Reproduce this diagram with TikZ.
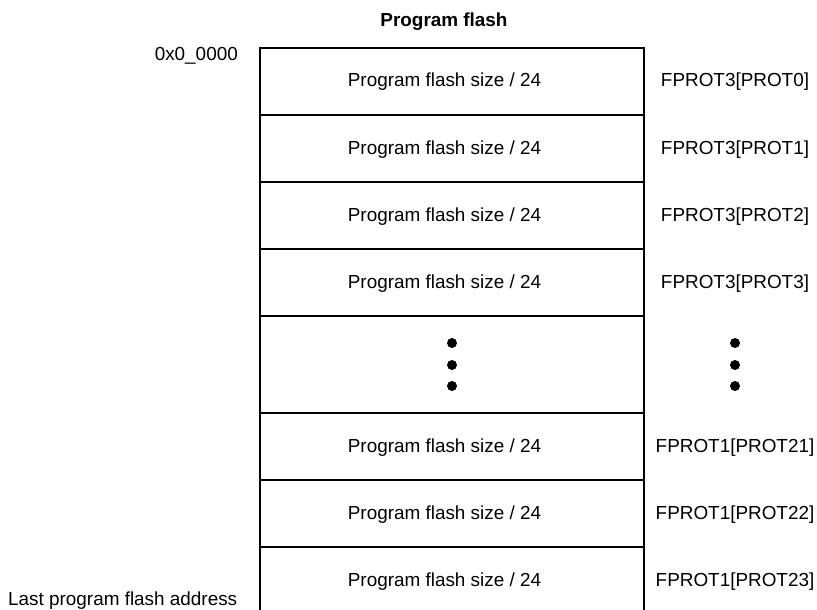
\documentclass[tikz,border=0pt]{standalone}
\usepackage{fontspec}
\setmainfont{Liberation Sans}
\begin{document}
\begin{tikzpicture}[x=1pt,y=-1pt,
  txt/.style={font=\fontsize{18.9}{20}\selectfont, inner sep=0pt},
  lbl/.style={txt, anchor=base},
  dot/.style={circle, fill=black, inner sep=0pt, minimum size=10pt},
  frame/.style={line width=1.6pt}]
\useasboundingbox (0,0) rectangle (817,610);
% outer frame
\draw[frame] (260,616) -- (260,48) -- (644,48) -- (644,616);
% dividers
\foreach \yy in {115,182,249,316,413,480,547}
  \draw[frame] (260,\yy) -- (644,\yy);
\node[txt, anchor=base, font=\fontsize{18.9}{20}\selectfont\bfseries] (title) at (444,27) {Program flash};
\node[txt, anchor=base east] (start) at (238,61) {0x0\_0000};
\node[txt, anchor=base west] (last) at (8,605) {Last program flash address};
% rows
\foreach \yy/\name/\lab in {87/r0/FPROT3[PROT0],154/r1/FPROT3[PROT1],221/r2/FPROT3[PROT2],288/r3/FPROT3[PROT3],452/r21/FPROT1[PROT21],519/r22/FPROT1[PROT22],586/r23/FPROT1[PROT23]} {
  \node[lbl] (\name) at (444.5,\yy) {Program flash size / 24};
  \node[lbl] (\name l) at (735,\yy) {\lab};
}
% dots
\foreach \yy/\i in {343/a,365/b,386/c} {
  \node[dot] (d\i) at (452,\yy) {};
  \node[dot] (e\i) at (735,\yy) {};
}
\end{tikzpicture}
\end{document}
